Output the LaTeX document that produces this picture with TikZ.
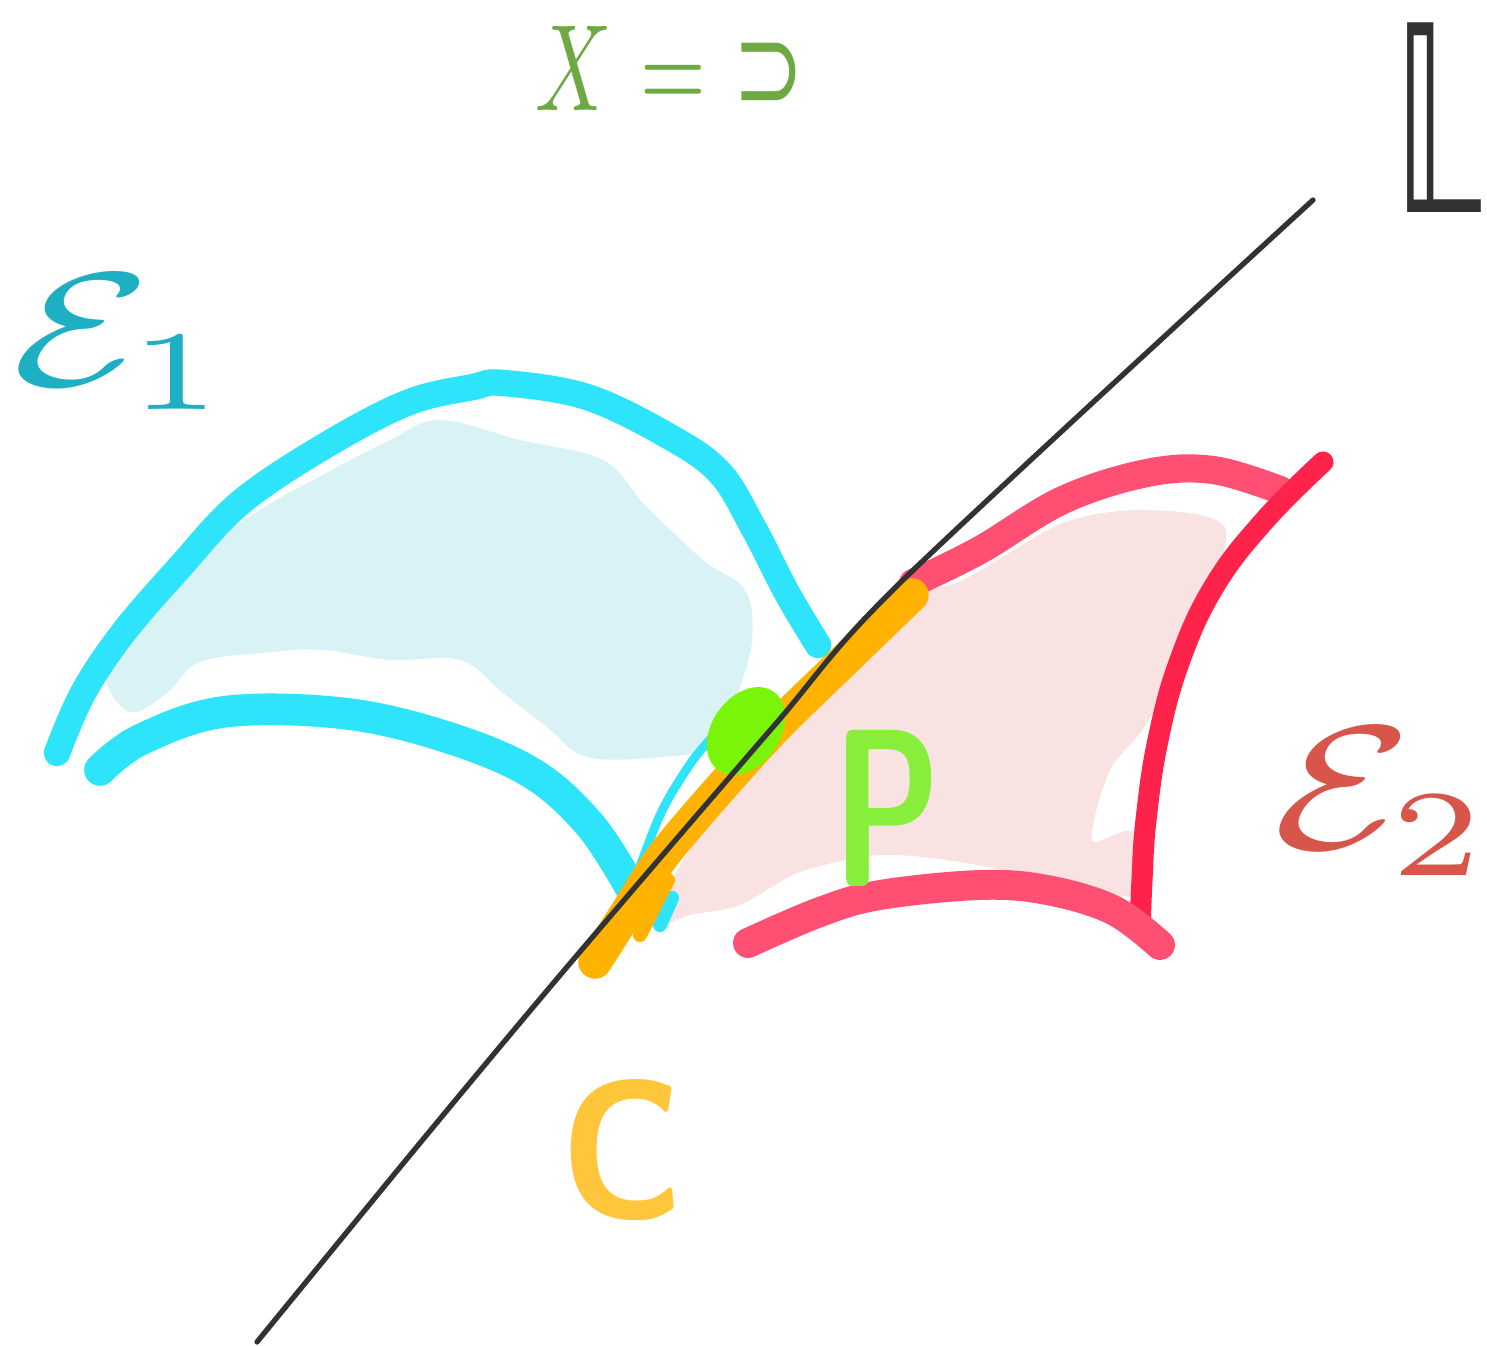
\documentclass[tikz,border=0pt]{standalone}
\usepackage{amsmath,amssymb}
\usepackage{fontspec}
\newfontfamily\dejavu{DejaVu Sans}
\usepackage{graphicx}
\usepackage{xcolor}
\usepackage{tikz}
\usetikzlibrary{positioning}
\definecolor{skycyan}{RGB}{45,228,250}
\definecolor{skyfill}{RGB}{217,242,245}
\definecolor{rosered}{RGB}{255,80,115}
\definecolor{rosedeep}{RGB}{255,35,75}
\definecolor{rosefill}{RGB}{248,226,226}
\definecolor{ambr}{RGB}{255,178,0}
\definecolor{ambrlight}{RGB}{255,198,60}
\definecolor{limeg}{RGB}{122,245,10}
\definecolor{limelight}{RGB}{135,238,60}
\definecolor{leafg}{RGB}{110,170,65}
\definecolor{tealtxt}{RGB}{30,175,195}
\definecolor{redtxt}{RGB}{215,85,75}
\definecolor{inkgray}{RGB}{50,50,50}

\begin{document}
\begin{tikzpicture}[x=0.01cm,y=-0.01cm,line cap=round,line join=round,
  cyanpen/.style={draw=skycyan,line width=7.5pt},
  redpen/.style={draw=rosered,line width=8pt},
  lbl/.style={inner sep=0pt,outer sep=0pt}]
  \useasboundingbox (0,0) rectangle (1487,1346);

  % shaded patches
  \fill[skyfill] plot[smooth cycle,tension=0.6] coordinates {
    (107,673) (150,610) (207,547) (260,510) (313,480) (390,440) (440,420)
    (520,440) (603,460) (645,505) (703,560) (745,590) (752,640) (738,693)
    (718,745) (660,757) (587,757) (547,727) (503,693) (460,660) (390,660)
    (323,650) (273,652) (200,662) (167,693) (130,712)};
  \fill[rosefill] plot[smooth cycle,tension=0.5] coordinates {
    (650,925) (700,835) (780,745) (860,655) (905,598) (963,580) (1063,523)
    (1147,510) (1225,528) (1197,623) (1147,723) (1110,770) (1092,840)
    (1132,832) (1135,895) (1050,880) (960,862) (880,855) (800,872) (740,905)
    (690,915)};

  % first surface
  \draw[cyanpen] plot[smooth,tension=0.6] coordinates {
    (57,753) (83,693) (123,633) (180,567) (240,503) (323,447) (407,403)
    (473,387) (503,383) (587,397) (670,437) (720,473) (753,527) (787,593)
    (818,645)};
  \draw[cyanpen,line width=9pt] plot[smooth,tension=0.6] coordinates {
    (100,770) (140,740) (223,712) (340,713) (440,735) (530,772) (590,825)
    (632,890)};
  \draw[cyanpen,line width=2.5pt] plot[smooth] coordinates {
    (628,900) (660,815) (693,760) (722,727)};
  \draw[cyanpen,line width=4pt] (672,898) -- (660,925);

  % second surface
  \draw[redpen] plot[smooth,tension=0.6] coordinates {
    (913,583) (980,550) (1063,500) (1147,473) (1213,470) (1280,490)};
  \draw[redpen,draw=rosedeep,line width=6pt] plot[smooth,tension=0.7] coordinates {
    (1323,462) (1265,520) (1215,585) (1180,660) (1158,740) (1146,820)
    (1142,880) (1140,930)};
  \draw[redpen,line width=8.5pt] plot[smooth,tension=0.6] coordinates {
    (748,943) (820,912) (880,895) (980,885) (1047,890) (1113,910) (1160,945)};

  % the curve C along the line
  \draw[ambr,line width=9.5pt] plot[smooth] coordinates {
    (595,962) (625,915) (660,860) (703,808) (773,730) (850,655) (912,595)};
  \draw[ambr,line width=4pt] (640,935) -- (668,880);

  % the point
  \fill[limeg] (746,731) ellipse [x radius=34, y radius=48, rotate=-35];

  % the line L
  \draw[inkgray,line width=1.5pt] plot[smooth,tension=0.5] coordinates {
    (257,1342) (420,1143) (567,967) (773,727) (903,580) (1313,200)};

  % labels
  \node[lbl,text=leafg] (blowup) at (670,68)
    {\scalebox{2.4}[3.5]{$X$ = {\dejavu ⊃}}};
  \node[lbl,text=inkgray] (lineL) at (1438,118)
    {\scalebox{3.8}[7.4]{\dejavu 𝕃}};
  \node[lbl,text=tealtxt] (eone) at (122,342)
    {\scalebox{6.4}[4.6]{$\mathcal{E}_1$}};
  \node[lbl,text=redtxt] (etwo) at (1383,802)
    {\scalebox{6.4}[5]{$\mathcal{E}_2$}};
  \node[lbl,text=limelight] (ptP) at (887,808)
    {\scalebox{4.4}[6.4]{\sffamily\bfseries P}};
  \node[lbl,text=ambrlight] (curveC) at (622,1150)
    {\scalebox{5}[5.6]{\sffamily\bfseries C}};
\end{tikzpicture}
\end{document}
